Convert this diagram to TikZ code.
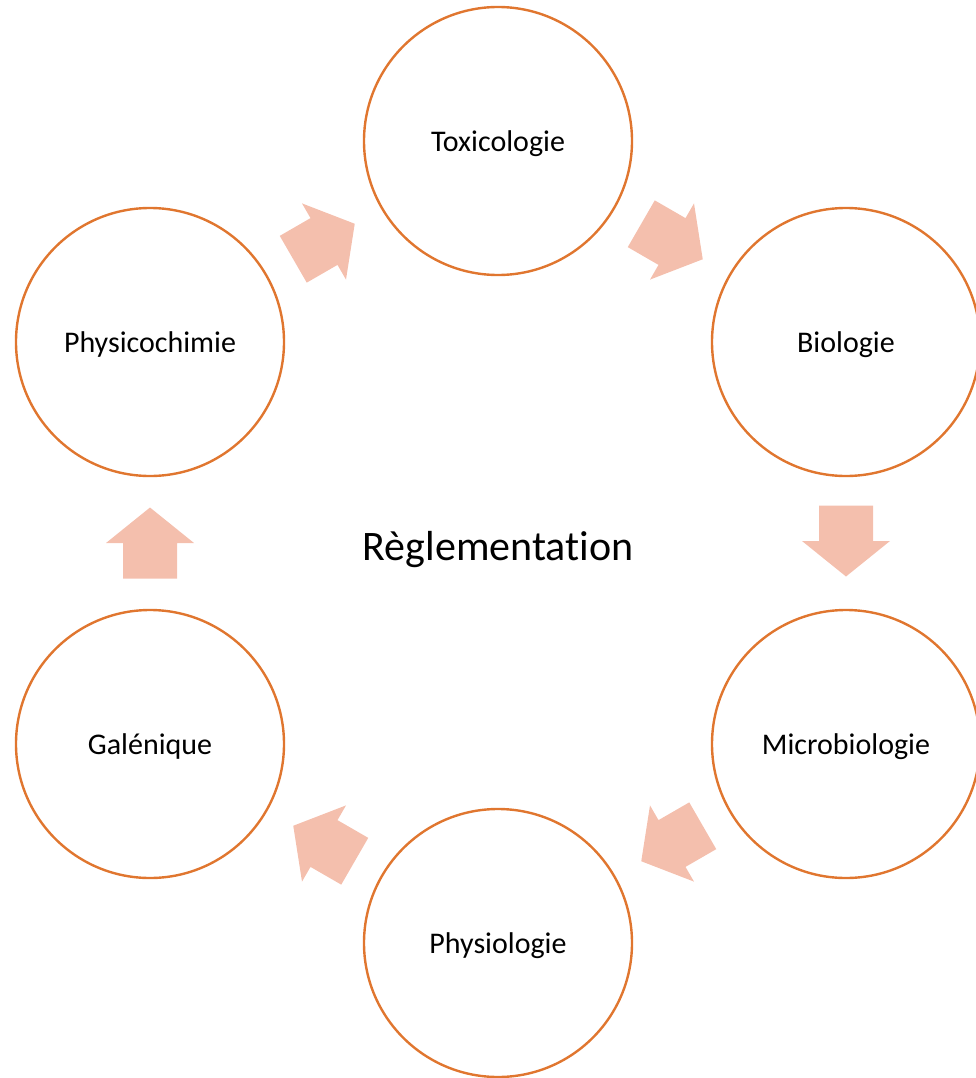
\documentclass[tikz,border=0pt]{standalone}
\usepackage{fontspec}
\setmainfont{Carlito}[Ligatures={NoCommon}]
\usetikzlibrary{calc}
\definecolor{ringcol}{HTML}{E0762F}
\definecolor{arrfill}{HTML}{F4BFAD}
\tikzset{
  ring/.style={circle, draw=ringcol, line width=1.8pt, minimum size=201pt, inner sep=0pt,
    font=\fontsize{22.5}{27}\selectfont, text=black, text depth=0pt},
  centretitle/.style={font=\fontsize{31.5}{38}\selectfont, text=black, inner sep=0pt, text depth=0pt},
  blockarr/.pic={\fill[arrfill] (-35.5,-27) -- (0,-27) -- (0,-44) -- (35.5,0) -- (0,44) -- (0,27) -- (-35.5,27) -- cycle;}
}
\begin{document}
\begin{tikzpicture}[x=0.75pt, y=-0.75pt]
\useasboundingbox (0,0) rectangle (975,1078);
\node[ring] (toxi) at (498,141) {Toxicologie};
\node[ring] (bio) at (846,342) {Biologie};
\node[ring] (micro) at (846,744) {Microbiologie};
\node[ring] (physio) at (498,943) {Physiologie};
\node[ring] (gal) at (150,744) {Galénique};
\node[ring] (physico) at (150,342) {Physicochimie};
\node[centretitle] (regl) at (498,546) {Règlementation};
\pic[rotate=30] at ($(physico)!0.5!(toxi)$) {blockarr};
\pic[rotate=-30] at ($(toxi)!0.5!(bio)$) {blockarr};
\pic[rotate=-90] at ($(bio)!0.5!(micro)+(0,-2)$) {blockarr};
\pic[rotate=210] at ($(micro)!0.5!(physio)$) {blockarr};
\pic[rotate=150] at ($(physio)!0.5!(gal)$) {blockarr};
\pic[rotate=90] at ($(gal)!0.5!(physico)$) {blockarr};
\end{tikzpicture}
\end{document}
